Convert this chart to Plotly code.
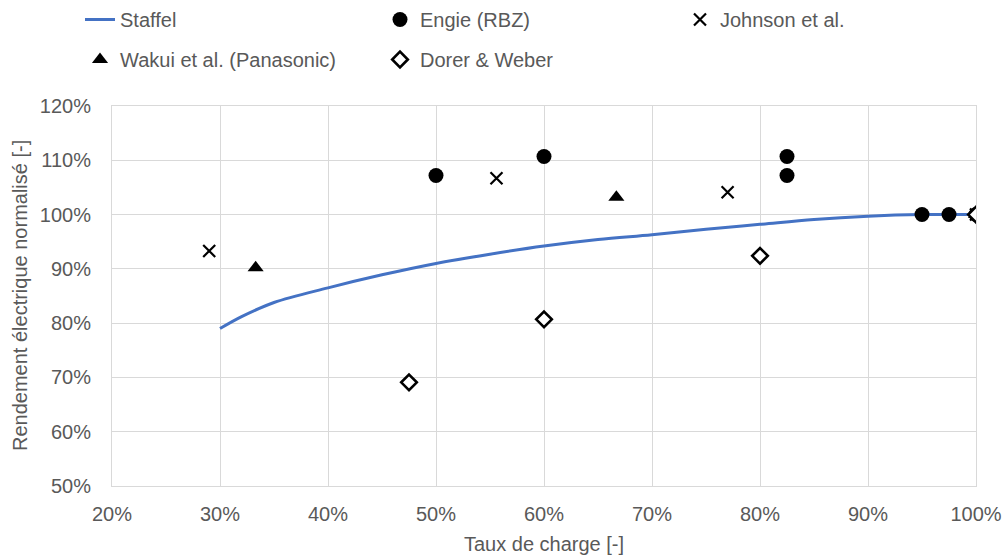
import plotly.graph_objects as go

# Data (fractions)
staffel_x = [0.30, 0.32, 0.35, 0.40, 0.45, 0.50, 0.55, 0.60, 0.65, 0.70, 0.75, 0.80, 0.85, 0.90, 0.95, 1.00]
staffel_y = [0.79, 0.812, 0.838, 0.865, 0.889, 0.910, 0.927, 0.942, 0.954, 0.963, 0.973, 0.982, 0.991, 0.997, 1.000, 1.000]

engie_x = [0.50, 0.60, 0.825, 0.825, 0.95, 0.975, 1.00]
engie_y = [1.072, 1.107, 1.107, 1.072, 1.000, 1.000, 1.000]

johnson_x = [0.29, 0.556, 0.77, 1.00]
johnson_y = [0.933, 1.067, 1.041, 1.000]

wakui_x = [0.333, 0.667, 1.00]
wakui_y = [0.902, 1.032, 1.000]

dorer_x = [0.475, 0.60, 0.80, 1.00]
dorer_y = [0.691, 0.807, 0.924, 1.000]

x_title = "Taux de charge [-]"
y_title = "Rendement électrique normalisé [-]"

FONT = "Liberation Sans, Arial, sans-serif"
GRAY = "#595959"
GRID = "#d9d9d9"
FS = 20

fig = go.Figure()
fig.add_trace(go.Scatter(x=staffel_x, y=staffel_y, mode="lines", name="Staffel", legendgroup="a",
                         line=dict(color="#4472C4", width=3, shape="spline"), legend="legend"))
fig.add_trace(go.Scatter(x=engie_x, y=engie_y, mode="markers", name="Engie (RBZ)", legendgroup="b",
                         marker=dict(symbol="circle", size=15, color="black"), legend="legend2"))
fig.add_trace(go.Scatter(x=johnson_x, y=johnson_y, mode="markers", name="Johnson et al.", legendgroup="c",
                         marker=dict(symbol="x-thin", size=12, color="black",
                                     line=dict(color="black", width=2.2)), legend="legend3"))
fig.add_trace(go.Scatter(x=wakui_x, y=wakui_y, mode="markers", name="Wakui et al. (Panasonic)",
                         legendgroup="d",
                         marker=dict(symbol="triangle-up", size=14, color="black"), legend="legend"))
fig.add_trace(go.Scatter(x=dorer_x, y=dorer_y, mode="markers", name="Dorer & Weber", legendgroup="e",
                         marker=dict(symbol="diamond", size=12, color="white",
                                     line=dict(color="black", width=2.6)), legend="legend2"))

legend_common = dict(orientation="v", xref="container", yref="container",
                     xanchor="left", yanchor="top", tracegroupgap=11,
                     font=dict(family=FONT, size=FS, color=GRAY), bgcolor="rgba(0,0,0,0)",
                     borderwidth=0, itemclick=False, itemdoubleclick=False)

top = 1.0
L, R, T, B = 112, 30, 106, 71
fig.update_layout(
    width=1006, height=557,
    margin=dict(l=L, r=R, t=T, b=B, autoexpand=False),
    paper_bgcolor="white", plot_bgcolor="white",
    font=dict(family=FONT, size=FS, color=GRAY),
    legend=dict(**legend_common, x=80/1006, y=top),
    legend2=dict(**legend_common, x=380/1006, y=top),
    legend3=dict(**legend_common, x=680/1006, y=top),
    xaxis=dict(range=[0.2, 1.0], dtick=0.1, tickformat=".0%", showgrid=True, gridcolor=GRID,
               gridwidth=1, showline=True, linecolor=GRID, mirror=True, zeroline=False,
               ticks="", ticklabelstandoff=10, automargin=False,
               tickfont=dict(family=FONT, size=FS, color=GRAY),
               title=dict(text=x_title, font=dict(family=FONT, size=FS, color=GRAY),
                          standoff=12)),
    yaxis=dict(range=[0.5, 1.2], dtick=0.1, tickformat=".0%", showgrid=True, gridcolor=GRID,
               gridwidth=1, showline=True, linecolor=GRID, mirror=True, zeroline=False,
               ticks="", ticklabelstandoff=16, automargin=False,
               tickfont=dict(family=FONT, size=FS, color=GRAY)),
    annotations=[dict(text=y_title, textangle=-90, xref="paper", yref="paper",
                      x=(20 - L) / (1006 - L - R), y=0.5, xanchor="center", yanchor="middle",
                      showarrow=False, font=dict(family=FONT, size=FS, color=GRAY))],
    showlegend=True,
)

fig.write_html("out.html", config={"displayModeBar": False},
               post_script="document.body.style.margin='0px';")
